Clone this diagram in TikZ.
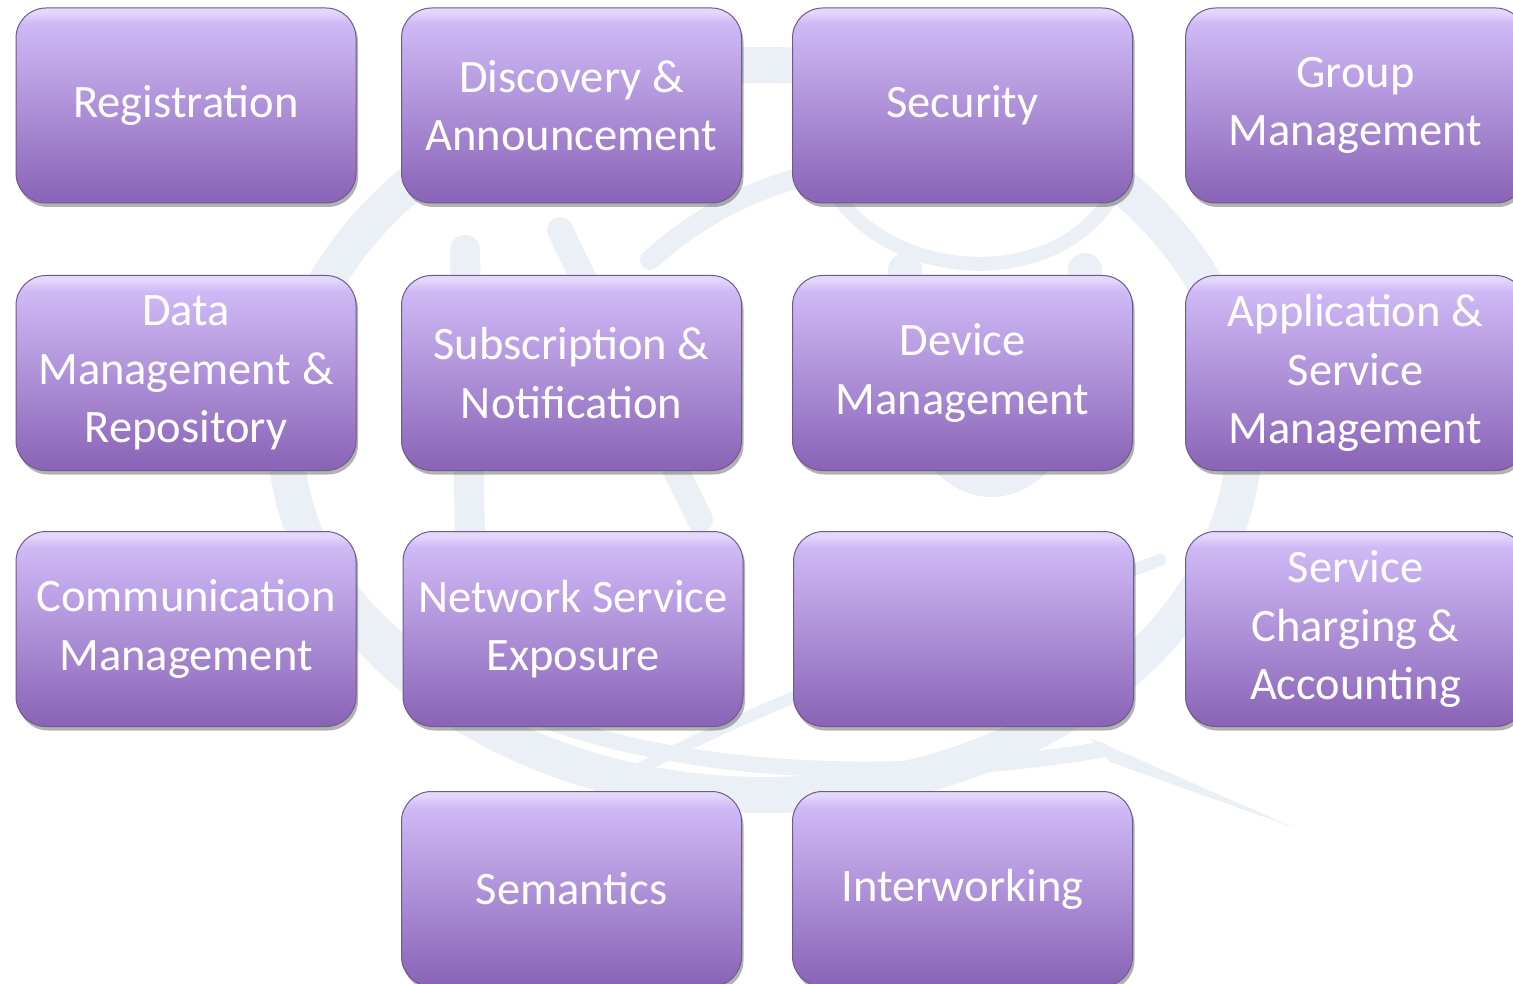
\documentclass[tikz,border=0pt]{standalone}
\usepackage{fontspec}
\setmainfont{Carlito}
\usetikzlibrary{shadows}
\definecolor{ptop}{HTML}{CFB9F6}
\definecolor{pbot}{HTML}{8963B6}
\definecolor{phl}{HTML}{E4D8FA}
\definecolor{pedge}{HTML}{6F5A8C}
\definecolor{wm}{HTML}{EBF0F7}
\pgfdeclareverticalshading{boxshade}{100bp}{color(0bp)=(pbot); color(25bp)=(pbot); color(71bp)=(ptop); color(74bp)=(phl); color(100bp)=(phl)}
\tikzset{
  fbox/.style={rectangle, rounded corners=30pt, minimum width=340pt, minimum height=195pt,
    shade, shading=boxshade, draw=pedge, line width=1pt, text=white, align=center,
    font=\fontsize{46.5}{58.5}\selectfont, inner sep=0pt,
    drop shadow={shadow xshift=2pt, shadow yshift=-4pt, fill=black, opacity=0.3}},
  wmline/.style={draw=wm, line cap=round}
}
\begin{document}
\begin{tikzpicture}[x=1pt,y=-1pt]
\useasboundingbox[fill=white] (0,0) rectangle (1513,984);
% faint watermark (globe logo)
\draw[wmline, line width=36pt] (765,430) ellipse[x radius=480pt, y radius=365pt];
\draw[wmline, line width=16pt] (330,560) .. controls (450,760) and (800,800) .. (1100,750);
\fill[wm] (1090,738) -- (1110,762) -- (1295,828) -- cycle;
\draw[wmline, line width=12pt] (600,790) .. controls (780,690) and (950,640) .. (1160,560);
\draw[wmline, line width=30pt] (465,250) -- (470,540);
\draw[wmline, line width=26pt] (560,230) -- (700,520);
\draw[wmline, line width=20pt] (650,260) .. controls (760,160) and (900,150) .. (1000,180);
\draw[wmline, line width=34pt] (905,270) .. controls (885,550) and (1095,550) .. (1085,270);
\draw[wmline, line width=14pt] (840,200) .. controls (900,280) and (1050,290) .. (1110,200);
% boxes
\node[fbox] (reg) at (186,105.5) {Registration};
\node[fbox] (disc) at (571.5,105.5) {Discovery \&\\Announcement};
\node[fbox] (sec) at (962.5,105.5) {Security};
\node[fbox] (grp) at (1355.5,105.5) {Group\\Management};
\node[fbox] (data) at (186,373) {Data\\Management \&\\Repository};
\node[fbox] (sub) at (571.5,373) {Subscription \&\\Notification};
\node[fbox] (dev) at (962.5,373) {Device\\Management};
\node[fbox] (app) at (1355.5,373) {Application \&\\Service\\Management};
\node[fbox] (comm) at (186,629) {Communication\\Management};
\node[fbox] (nse) at (573,629) {Network Service\\Exposure};
\node[fbox] (empty) at (963.5,629) {};
\node[fbox] (chg) at (1355.5,629) {Service\\Charging \&\\Accounting};
\node[fbox] (sem) at (571.5,889) {Semantics};
\node[fbox] (inter) at (962.5,889) {Interworking};
\end{tikzpicture}
\end{document}
